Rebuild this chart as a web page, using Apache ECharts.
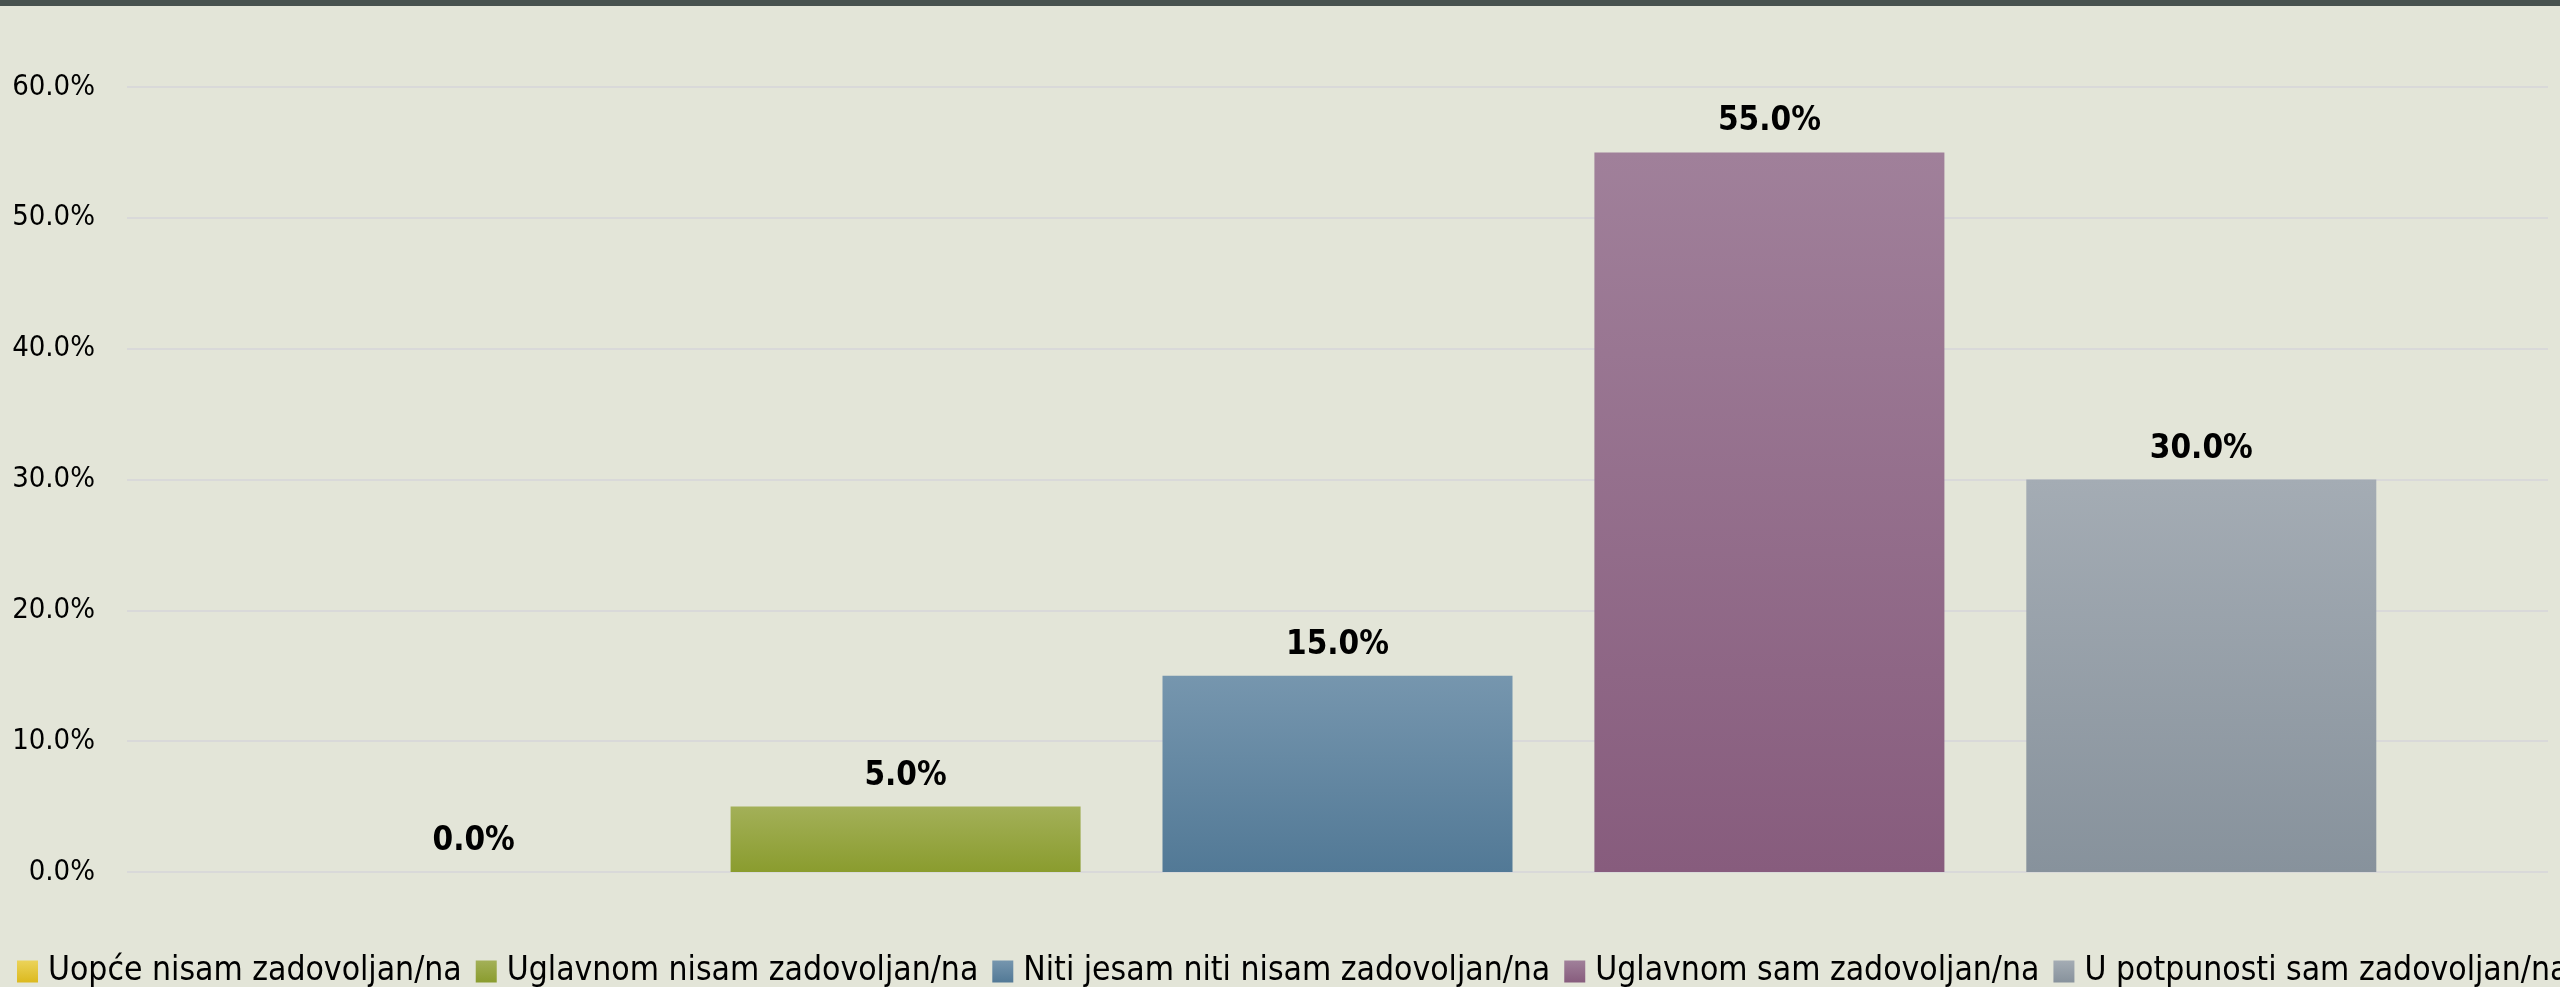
<!DOCTYPE html>
<html>
<head>
<meta charset="utf-8">
<script src="https://cdn.jsdelivr.net/npm/echarts@6/dist/echarts.min.js"></script>
<style>
html, body { margin: 0; padding: 0; background: #e3e5d8; }
#main { width: 2560px; height: 987px; }
</style>
</head>
<body>
<div id="main"></div>
<script>
// podaci
var categories = [''];
var seriesNames = [
    'Uopće nisam zadovoljan/na',
    'Uglavnom nisam zadovoljan/na',
    'Niti jesam niti nisam zadovoljan/na',
    'Uglavnom sam zadovoljan/na',
    'U potpunosti sam zadovoljan/na'
];
var seriesValues = [0, 5, 15, 55, 30];
var yMin = 0, yMax = 60, yStep = 10;

// boje (vrh, dno)
var barColors = [
    ['#ebd35a', '#dcb91e'],
    ['#a3b058', '#8a9c2e'],
    ['#7696ae', '#527996'],
    ['#a0809a', '#875c7d'],
    ['#a4acb4', '#87929c']
];

var FONT = "'Liberation Sans Narrow', 'DejaVu Sans Condensed', sans-serif";

function pct(v) {
    return Number(v).toFixed(1) + '%';
}

function LoadChart() {
    var myChart = echarts.init(document.getElementById('main'));

    var series = seriesNames.map(function (name, i) {
        return {
            name: name,
            type: 'bar',
            data: [seriesValues[i]],
            barWidth: 350,
            barGap: '23.4%',
            itemStyle: {
                color: new echarts.graphic.LinearGradient(0, 0, 0, 1, [
                    { offset: 0, color: barColors[i][0] },
                    { offset: 1, color: barColors[i][1] }
                ])
            },
            label: {
                show: true,
                position: 'top',
                distance: 14,
                fontFamily: FONT,
                fontWeight: 'bold',
                fontSize: 33,
                color: '#000',
                formatter: function (p) { return pct(p.value); }
            }
        };
    });

    var option = {
        backgroundColor: '#e3e5d8',
        animation: false,
        graphic: [{
            type: 'rect',
            left: 0, top: 0,
            shape: { width: 2560, height: 6 },
            style: { fill: '#48524f' }
        }],
        grid: { left: 127, right: 12, top: 87, bottom: 115 },
        legend: {
            left: 12,
            top: 950,
            width: 4000,
            itemWidth: 21,
            itemHeight: 22,
            itemGap: 14,
            icon: 'rect',
            textStyle: { fontFamily: FONT, fontSize: 33.4, color: '#000', padding: [0, 0, 0, 5] },
            data: seriesNames
        },
        xAxis: {
            type: 'category',
            data: categories,
            axisLine: { show: false },
            axisTick: { show: false },
            axisLabel: { show: false }
        },
        yAxis: {
            type: 'value',
            min: yMin,
            max: yMax,
            interval: yStep,
            axisLine: { show: false },
            axisTick: { show: false },
            splitLine: { lineStyle: { color: '#d9d9d9', width: 2 } },
            axisLabel: {
                fontFamily: FONT,
                fontSize: 29,
                color: '#000',
                margin: 32,
                formatter: function (v) { return pct(v); }
            }
        },
        series: series
    };

    myChart.setOption(option, true);
}

LoadChart();
</script>
</body>
</html>
